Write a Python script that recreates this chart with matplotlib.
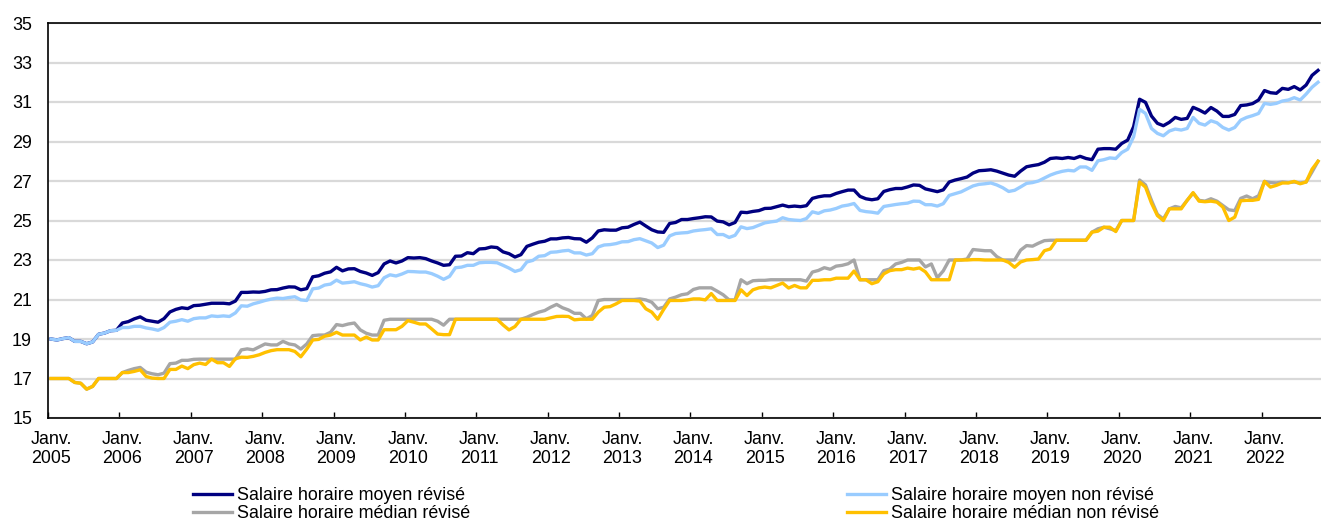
import matplotlib
matplotlib.use("Agg")
import matplotlib.pyplot as plt
from matplotlib import font_manager
from matplotlib.lines import Line2D
import numpy as np

# ---------------- data (monthly, Jan 2005 -> Oct 2022) ----------------
years_labels = [str(y) for y in range(2005, 2023)]

mean_nonrev = [
    19.0, 18.95, 19.02, 19.07, 18.88, 18.88, 18.76, 18.85, 19.24, 19.3, 19.42, 19.44,
    19.58, 19.58, 19.64, 19.64, 19.56, 19.51, 19.44, 19.58, 19.85, 19.9, 19.98, 19.9,
    20.03, 20.07, 20.07, 20.17, 20.14, 20.17, 20.14, 20.32,
    20.68, 20.66, 20.78, 20.86, 20.95, 21.02, 21.07, 21.05, 21.1, 21.14, 20.98, 20.95,
    21.54, 21.58, 21.73, 21.78, 21.98, 21.83, 21.86, 21.9, 21.8, 21.73, 21.63, 21.7,
    22.1, 22.25, 22.19, 22.29, 22.42, 22.41, 22.39, 22.39, 22.31, 22.18, 22.02, 22.17,
    22.61, 22.64, 22.73, 22.73, 22.86, 22.88, 22.88, 22.86, 22.73, 22.59, 22.42, 22.51,
    22.9, 22.98, 23.19, 23.22, 23.39, 23.41, 23.46, 23.49, 23.36, 23.36, 23.25, 23.32,
    23.66, 23.76, 23.78, 23.83, 23.92, 23.93, 24.03,
    24.08, 23.97, 23.86, 23.63, 23.75, 24.22, 24.34, 24.37, 24.39, 24.47, 24.51, 24.54,
    24.58, 24.29, 24.29, 24.14, 24.25, 24.68, 24.59, 24.64, 24.76, 24.88, 24.93, 24.97,
    25.14, 25.05, 25.02, 25.0, 25.1, 25.44, 25.36, 25.49, 25.53, 25.61, 25.73, 25.78, 25.86,
    25.51, 25.45, 25.42, 25.37, 25.71, 25.76, 25.81, 25.85, 25.88, 25.98, 25.97, 25.8,
    25.8, 25.73, 25.85, 26.27, 26.36, 26.45, 26.6, 26.75, 26.83, 26.86, 26.9, 26.8,
    26.66, 26.47, 26.53, 26.7, 26.88, 26.92,
    27.0, 27.15, 27.3, 27.41, 27.49, 27.54, 27.51, 27.71, 27.71, 27.54, 28.02, 28.08,
    28.17, 28.14, 28.44, 28.61, 29.24, 30.63, 30.42, 29.66, 29.41, 29.29, 29.53, 29.63,
    29.58, 29.66, 30.22, 29.92, 29.83, 30.05, 29.95, 29.71, 29.58, 29.71, 30.08, 30.22,
    30.31, 30.42, 30.93, 30.88, 30.93, 31.05, 31.1, 31.22, 31.1, 31.4, 31.75, 32.0,
]

mean_rev = mean_nonrev[:12] + [
    19.81, 19.88, 20.02, 20.12, 19.95, 19.9, 19.85, 20.03, 20.37, 20.5, 20.58, 20.54,
    20.69, 20.71, 20.76, 20.81, 20.81, 20.81, 20.78, 20.92,
    21.36, 21.36, 21.38, 21.37, 21.41, 21.49, 21.5, 21.58, 21.64, 21.63, 21.49, 21.55,
    22.15, 22.2, 22.33, 22.4, 22.63, 22.45, 22.55, 22.56, 22.42, 22.34, 22.22, 22.36,
    22.8, 22.95, 22.85, 22.95, 23.12, 23.1, 23.12, 23.07, 22.95, 22.85, 22.73, 22.76,
    23.19, 23.2, 23.37, 23.32, 23.56, 23.58, 23.66, 23.63, 23.41, 23.32, 23.15, 23.27,
    23.69, 23.8, 23.9, 23.95, 24.07, 24.07, 24.12, 24.14, 24.08, 24.07, 23.9, 24.12,
    24.47, 24.53, 24.51, 24.51, 24.63, 24.66, 24.8, 24.92, 24.72, 24.53, 24.42, 24.4,
    24.85, 24.9, 25.05, 25.05, 25.1, 25.14, 25.19, 25.18, 24.97, 24.93, 24.78, 24.9,
    25.42, 25.4, 25.46, 25.5, 25.61, 25.62, 25.7, 25.78, 25.7, 25.73, 25.7, 25.75,
    26.12, 26.2, 26.25, 26.25, 26.37, 26.46, 26.54, 26.54, 26.22, 26.1, 26.05, 26.1,
    26.47, 26.56, 26.62, 26.62, 26.7, 26.8, 26.78, 26.6, 26.53, 26.46, 26.55, 26.95,
    27.05, 27.12, 27.2, 27.4, 27.52, 27.54, 27.57, 27.5, 27.4, 27.3, 27.24, 27.5,
    27.72, 27.78, 27.83, 27.95, 28.14, 28.17, 28.14, 28.19, 28.14, 28.25, 28.14, 28.08,
    28.61, 28.64, 28.64, 28.61, 28.9, 29.07, 29.75, 31.14, 30.98, 30.29, 29.92, 29.8,
    29.97, 30.22, 30.12, 30.17, 30.73, 30.6, 30.44, 30.72, 30.54, 30.27, 30.27, 30.37,
    30.82, 30.85, 30.92, 31.1, 31.58, 31.47, 31.44, 31.69, 31.64, 31.78, 31.61, 31.86,
    32.35, 32.6,
]

median_nonrev = [
    17.0, 17.0, 17.0, 17.0, 16.8, 16.76, 16.46, 16.6, 17.0, 17.0, 17.0, 17.0,
    17.3, 17.3, 17.36, 17.44, 17.1, 17.02, 17.0, 17.0, 17.46, 17.46, 17.63, 17.5,
    17.7, 17.78, 17.71, 17.98, 17.8, 17.8, 17.61, 18.0,
    18.08, 18.07, 18.12, 18.2, 18.32, 18.41, 18.46, 18.46, 18.46, 18.37, 18.1, 18.49,
    18.95, 18.98, 19.14, 19.2, 19.34, 19.2, 19.2, 19.2, 18.95, 19.1, 18.95, 18.95,
    19.47, 19.47, 19.47, 19.64, 19.93, 19.85, 19.76, 19.76, 19.51, 19.25, 19.22, 19.22,
    20.0, 20.0, 20.0, 20.0, 20.0, 20.0, 20.0, 20.0, 19.71, 19.46, 19.63, 20.0,
    20.0, 20.0, 20.0, 20.0, 20.07, 20.14, 20.15, 20.14, 19.97, 20.0, 20.0, 20.0,
    20.36, 20.61, 20.64, 20.78, 20.95, 20.95, 20.95,
    20.92, 20.53, 20.36, 20.0, 20.5, 20.95, 20.95, 20.95, 20.98, 21.03, 21.03, 20.98,
    21.3, 20.95, 20.95, 20.95, 20.95, 21.49, 21.2, 21.49, 21.59, 21.63, 21.59, 21.71,
    21.83, 21.58, 21.71, 21.59, 21.59, 21.97, 21.97, 22.0, 22.0, 22.08, 22.08, 22.08, 22.44,
    22.0, 22.0, 21.8, 21.9, 22.3, 22.46, 22.51, 22.51, 22.59, 22.54, 22.6, 22.4,
    22.0, 22.0, 22.0, 22.0, 23.0, 23.0, 23.0, 23.02, 23.02, 23.0, 23.0, 23.0,
    23.0, 22.88, 22.63, 22.9, 23.0, 23.02,
    23.05, 23.47, 23.56, 24.0, 24.0, 24.0, 24.0, 24.0, 24.0, 24.41, 24.46, 24.66,
    24.66, 24.44, 25.0, 25.0, 25.0, 26.95, 26.69, 25.88, 25.25, 25.0, 25.59, 25.59,
    25.59, 26.02, 26.41, 25.98, 25.95, 25.98, 25.93, 25.68, 25.0, 25.17, 26.0, 26.02,
    26.02, 26.07, 26.98, 26.69, 26.78, 26.9, 26.9, 26.98, 26.86, 26.95, 27.6, 28.0,
]

median_rev = median_nonrev[:12] + [
    17.3, 17.41, 17.5, 17.56, 17.32, 17.24, 17.19, 17.27, 17.75, 17.78, 17.92, 17.92,
    17.97, 17.98, 17.98, 17.98, 17.98, 17.98, 17.98, 17.98,
    18.45, 18.5, 18.45, 18.6, 18.75, 18.7, 18.7, 18.88, 18.75, 18.7, 18.49, 18.75,
    19.17, 19.2, 19.2, 19.34, 19.73, 19.68, 19.76, 19.81, 19.46, 19.29, 19.2, 19.2,
    19.95, 20.0, 20.0, 20.0, 20.0, 20.0, 20.0, 20.0, 20.0, 19.9, 19.7, 20.0,
    20.0, 20.0, 20.0, 20.0, 20.0, 20.0, 20.0, 20.0, 20.0, 20.0, 20.0, 20.0,
    20.1, 20.24, 20.36, 20.44, 20.61, 20.75, 20.58, 20.47, 20.3, 20.3, 20.02, 20.19,
    20.95, 21.0, 21.0, 21.0, 21.0, 21.0, 21.0,
    21.03, 20.98, 20.86, 20.53, 20.61, 21.03, 21.12, 21.24, 21.29, 21.51, 21.59, 21.59,
    21.59, 21.42, 21.24, 20.98, 20.98, 22.0, 21.8, 21.95, 21.97, 21.97, 22.0, 22.0,
    22.0, 22.0, 22.0, 22.0, 21.93, 22.39, 22.47, 22.61, 22.53, 22.69, 22.73, 22.81, 23.0,
    22.0, 22.0, 22.0, 22.0, 22.46, 22.54, 22.8, 22.88, 23.0, 23.0, 23.0, 22.65,
    22.8, 22.1, 22.45, 23.0, 23.0, 23.0, 23.05, 23.53, 23.5, 23.47, 23.47, 23.17,
    23.0, 23.0, 23.0, 23.5, 23.73, 23.7,
    23.85, 23.98, 24.0, 24.0, 24.0, 24.0, 24.0, 24.0, 24.0, 24.41, 24.58, 24.66,
    24.58, 24.49, 25.0, 25.0, 25.0, 27.05, 26.8, 26.02, 25.31, 25.08, 25.59, 25.71,
    25.64, 26.02, 26.39, 26.02, 25.98, 26.1, 25.98, 25.76, 25.54, 25.5, 26.12, 26.24,
    26.1, 26.25, 26.98, 26.92, 26.9, 26.95, 26.92, 26.95, 26.9, 26.95, 27.46, 28.0,
]

labels = [
    "Salaire horaire moyen révisé",
    "Salaire horaire moyen non révisé",
    "Salaire horaire médian révisé",
    "Salaire horaire médian non révisé",
]

# ---------------- styling ----------------
avail = {f.name for f in font_manager.fontManager.ttflist}
fam = [f for f in ["Liberation Sans Narrow", "Liberation Sans", "DejaVu Sans"] if f in avail]
plt.rcParams["font.family"] = fam

FS = 12.9
c_db = "#000080"
c_lb = "#99CCFF"
c_gr = "#A6A6A6"
c_or = "#FFC000"
lw = 2.4

W, H = 1321, 525
fig = plt.figure(figsize=(W / 100, H / 100), dpi=100)
ax = fig.add_axes([48 / W, 1 - 418 / H, (W - 48) / W, (418 - 23) / H])

n = len(mean_rev)
x = np.arange(n)

ax.plot(x, median_rev, color=c_gr, lw=lw, zorder=3, solid_joinstyle="round")
ax.plot(x, median_nonrev, color=c_or, lw=lw, zorder=4, solid_joinstyle="round")
ax.plot(x, mean_rev, color=c_db, lw=lw, zorder=3, solid_joinstyle="round")
ax.plot(x, mean_nonrev, color=c_lb, lw=lw, zorder=4, solid_joinstyle="round")

ax.set_xlim(-0.5, n - 0.5)
ax.set_ylim(15, 35)
ax.set_yticks(np.arange(15, 36, 2))
ax.tick_params(axis="y", length=0, pad=11.5, labelsize=FS)
ax.grid(axis="y", color="#D9D9D9", lw=1.6, zorder=0)
ax.set_axisbelow(True)

# tick marks at year boundaries, labels at January points
ax.set_xticks(np.arange(-0.5, n, 12), minor=False)
ax.set_xticklabels([])
ax.tick_params(axis="x", which="major", direction="in", length=4, width=1, color="black")
ax.set_xticks(np.arange(0, n, 12), minor=True)
ax.set_xticklabels(["Janv.\n" + y for y in years_labels], minor=True, fontsize=FS,
                   linespacing=1.2)
ax.tick_params(axis="x", which="minor", length=0, pad=9)

for s in ["left", "bottom", "top"]:
    ax.spines[s].set_color("black")
    ax.spines[s].set_linewidth(1.2)
ax.spines["right"].set_visible(False)

h_db = Line2D([], [], color=c_db, lw=lw)
h_lb = Line2D([], [], color=c_lb, lw=lw)
h_gr = Line2D([], [], color=c_gr, lw=lw)
h_or = Line2D([], [], color=c_or, lw=lw)

kw = dict(frameon=False, fontsize=FS, handlelength=2.2, handletextpad=0.25,
          borderpad=0, borderaxespad=0, labelspacing=0.08, loc="upper left")
leg1 = fig.legend([h_db, h_gr], [labels[0], labels[2]],
                  bbox_to_anchor=(193 / W, 1 - 487 / H), **kw)
leg2 = fig.legend([h_lb, h_or], [labels[1], labels[3]],
                  bbox_to_anchor=(847 / W, 1 - 487 / H), **kw)

fig.savefig("out.png", dpi=100)
